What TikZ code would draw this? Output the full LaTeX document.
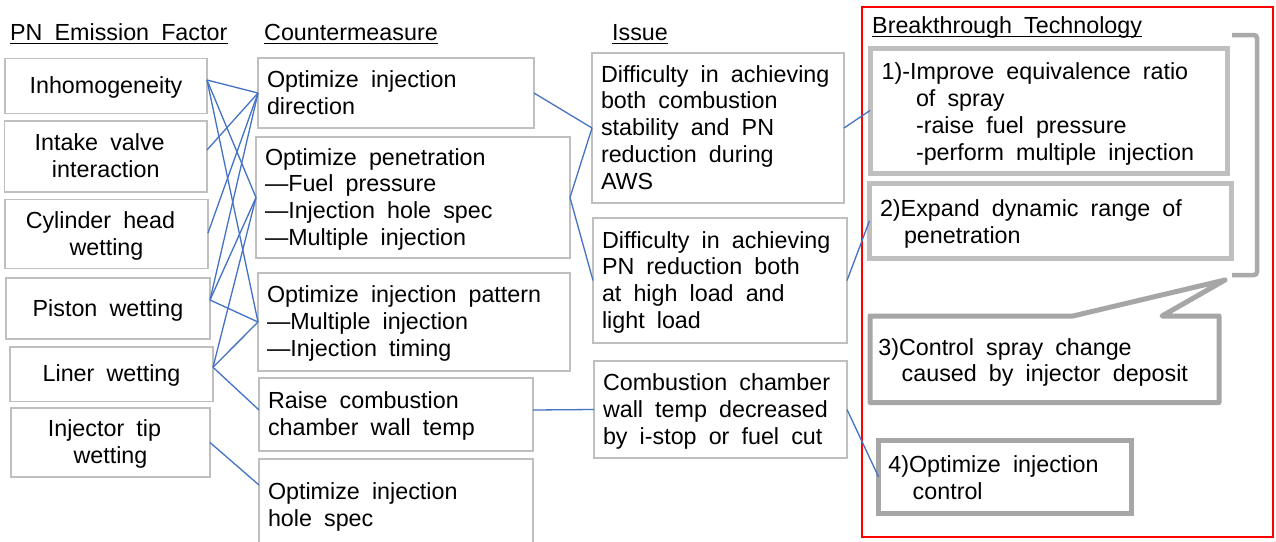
\documentclass[tikz,border=0pt]{standalone}
\usepackage{fontspec}
\setmainfont{Liberation Sans}
\definecolor{bgray}{RGB}{191,191,191}
\definecolor{bgrayL}{RGB}{191,191,191}
\definecolor{bgrayD}{RGB}{166,166,166}
\definecolor{bgrayB}{RGB}{170,170,170}
\definecolor{cblue}{RGB}{68,114,196}
\newcommand{\txtfont}{\fontsize{23.3pt}{26.8pt}\selectfont}
\newcommand{\tsp}{\rule{12.1pt}{0pt}}
\newcommand{\pstrut}{\rule[-5.7pt]{0pt}{26.8pt}}
\newcommand{\tstrut}{\rule[-5.7pt]{0pt}{30pt}}
\begin{document}
\begin{tikzpicture}[x=1pt,y=-1pt,
  every node/.style={font=\txtfont, text=black,
    execute at begin node={\spaceskip=12.1pt\relax\xspaceskip=12.1pt\relax\pstrut},
    execute at end node={\pstrut}},
  fbox/.style={draw=bgray, line width=1.6pt, fill=white, inner xsep=4pt, inner ysep=0pt, outer sep=0pt, align=center, anchor=north west},
  cbox/.style={draw=bgray, line width=1.6pt, fill=white, inner xsep=9pt, inner ysep=0pt, outer sep=0pt, align=left, anchor=north west},
  tbox/.style={line width=5pt, fill=white, inner ysep=0pt, outer sep=0pt, align=left, anchor=north west,
    execute at begin node={\spaceskip=12.1pt\relax\xspaceskip=12.1pt\relax\tstrut}},
  hdr/.style={inner sep=0pt, anchor=base west},
  uline/.style={line width=1.6pt},
  conn/.style={draw=cblue, line width=1.3pt},
]
\useasboundingbox (0,0) rectangle (1276,541);
\fill[white] (0,0) rectangle (1276,541);

% red frame
\draw[red, line width=1.8pt] (862,7) rectangle (1273,537);

% headers
\node[hdr] (h1) at (10,40.5) {PN Emission Factor};
\node[hdr] (h2) at (264,40.5) {Countermeasure};
\node[hdr] (h3) at (612,40.5) {Issue};
\node[hdr] (h4) at (872,33.5) {Breakthrough Technology};
\foreach \h in {h1,h2,h3,h4}{
  \draw[uline] ([yshift=-2.8pt]\h.base west) -- ([yshift=-2.8pt]\h.base east);
}

% column 1
\node[fbox, text width=194pt, minimum height=55pt] (inh) at (5,58.5) {Inhomogeneity};
\node[fbox, text width=194.5pt, minimum height=71pt] (intk) at (4.5,121) {Intake valve\tsp\\interaction};
\node[fbox, text width=195pt, minimum height=69pt] (cyl) at (5,199.5) {Cylinder head\tsp\\wetting};
\node[fbox, text width=196pt, minimum height=61pt] (pist) at (6,278) {Piston wetting};
\node[fbox, text width=195pt, minimum height=54.5pt] (lin) at (10,347) {Liner wetting};
\node[fbox, text width=191pt, minimum height=69pt] (inj) at (11,408) {Injector tip\tsp\\wetting};

% column 2
\node[cbox, text width=258pt, minimum height=70pt] (oid) at (258,58) {Optimize injection\\direction};
\node[cbox, text width=296pt, minimum height=121pt] (pen) at (256,137) {Optimize penetration\\—Fuel pressure\\—Injection hole spec\\—Multiple injection};
\node[cbox, text width=294pt, minimum height=98pt] (pat) at (258,273) {Optimize injection pattern\\—Multiple injection\\—Injection timing};
\node[cbox, text width=256pt, minimum height=73pt] (rai) at (259,378) {Raise combustion\\chamber wall temp};
\node[cbox, text width=256pt, minimum height=92pt] (hol) at (259,459) {Optimize injection\\hole spec};

% column 3
\node[cbox, text width=234pt, minimum height=150pt] (is1) at (592,53) {Difficulty in achieving\\both combustion\\stability and PN\\reduction during\\AWS};
\node[cbox, text width=236pt, minimum height=125pt] (is2) at (593,218) {Difficulty in achieving\\PN reduction both\\at high load and\\light load};
\node[cbox, text width=235pt, minimum height=97pt] (is3) at (594,361) {Combustion chamber\\wall temp decreased\\by i-stop or fuel cut};

% bracket
\draw[bgrayB, line width=4.5pt, rounded corners=3pt] (1232,35) -- (1257,35) -- (1257,275) -- (1232,275);

% breakthrough boxes
\node[tbox, draw=bgrayL, inner xsep=11.7pt, text width=334.1pt, minimum height=125pt] (t1) at (870,48) {1)-Improve equivalence ratio\\\hspace*{34.3pt}of spray\\\hspace*{34.3pt}-raise fuel pressure\\\hspace*{34.3pt}-perform multiple injection};
\node[tbox, draw=bgrayL, inner xsep=10.5pt, text width=341pt, minimum height=74.5pt] (t2) at (869.5,183.5) {2)Expand dynamic range of\\\hspace*{24pt}penetration};
\coordinate (tip) at (1225,280);
\node[tbox, inner xsep=8.3pt, text width=332.4pt, minimum height=86.5pt] (t3) at (870,316) {};
\draw[bgrayD, line width=5pt, line join=round, fill=white] (t3.north west) -- ([xshift=203pt]t3.north west) -- (tip) -- ([xshift=292pt]t3.north west) -- (t3.north east) -- (t3.south east) -- (t3.south west) -- cycle;
\node[tbox, inner xsep=8.3pt, text width=332.4pt, minimum height=86.5pt, fill=none] (t3txt) at (870,316) {3)Control spray change\\\hspace*{23.4pt}caused by injector deposit};
\node[tbox, draw=bgrayD, inner xsep=9.8pt, text width=233.4pt, minimum height=73.5pt] (t4) at (878.5,440) {4)Optimize injection\\\hspace*{24.4pt}control};

% connectors
\draw[conn] ([yshift=6pt]inh.east) -- (oid.west);
\draw[conn] ([yshift=6pt]inh.east) -- (pen.west);
\draw[conn] ([yshift=6pt]inh.east) -- (pat.west);
\draw[conn] ([yshift=6.5pt]intk.east) -- (oid.west);
\draw[conn] ([yshift=1pt]cyl.east) -- (oid.west);
\draw[conn] ([yshift=8.5pt]pist.east) -- (oid.west);
\draw[conn] ([yshift=8.5pt]pist.east) -- (pen.west);
\draw[conn] ([yshift=8.5pt]pist.east) -- (pat.west);
\draw[conn] ([yshift=7pt]lin.east) -- (pen.west);
\draw[conn] ([yshift=7pt]lin.east) -- (pat.west);
\draw[conn] ([yshift=7pt]lin.east) -- ([yshift=4.5pt]rai.west);
\draw[conn] (inj.east) -- ([yshift=20pt]hol.west);
\draw[conn] (oid.east) -- (is1.west);
\draw[conn] (pen.east) -- (is1.west);
\draw[conn] (pen.east) -- (is2.west);
\draw[conn] ([yshift=4.5pt]rai.east) -- (is3.west);
\draw[conn] (is1.east) -- (t1.west);
\draw[conn] (is2.east) -- (t2.west);
\draw[conn] (is3.east) -- (t4.west);
\end{tikzpicture}
\end{document}
